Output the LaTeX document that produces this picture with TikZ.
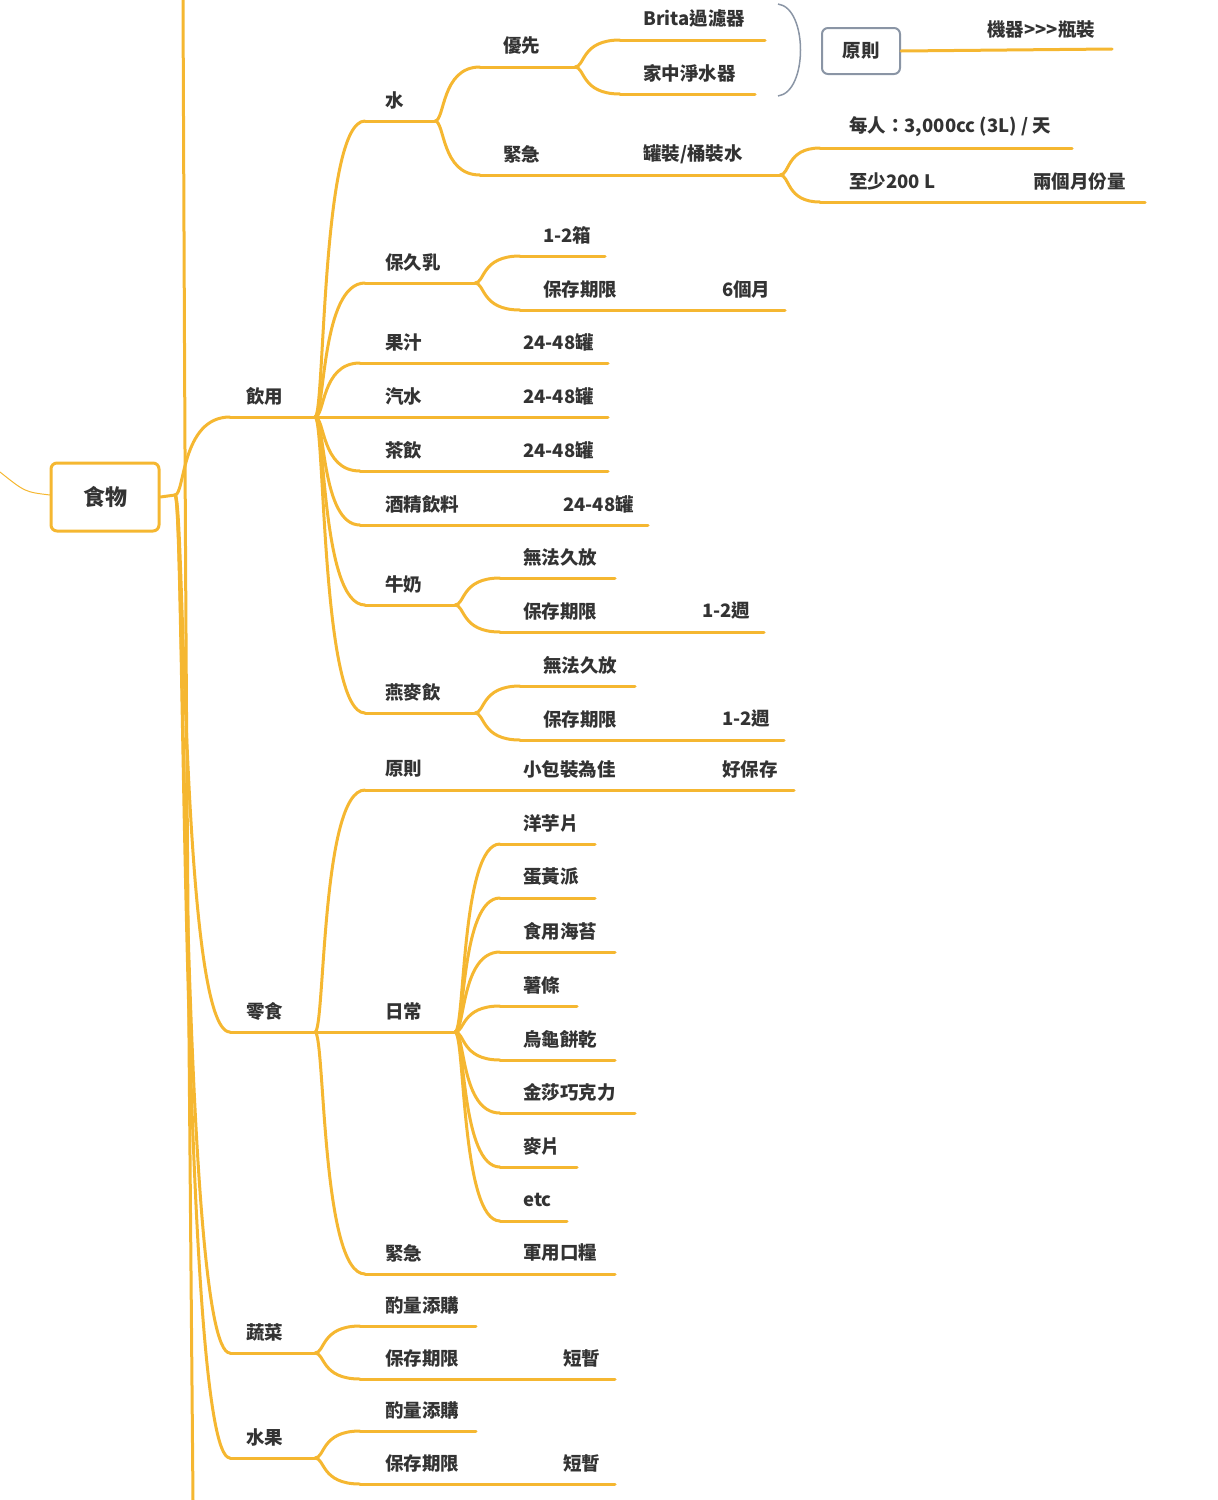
\documentclass[tikz,border=0pt]{standalone}
\usepackage{fontspec}
\setmainfont{Noto Sans CJK TC}
\usetikzlibrary{calc}
\definecolor{branch}{HTML}{F5B731}
\definecolor{ink}{HTML}{333333}
\definecolor{frame}{HTML}{8A95A5}
\tikzset{
  lbl/.style={anchor=west, inner sep=0pt, text=ink, font=\fontsize{18.5}{21}\selectfont\bfseries},
  br/.style={draw=branch, line width=3pt, line cap=round},
}
% one item: name, line start x, line end x, line y, text x, text
\newcommand\mm[6]{%
  \coordinate (#1-s) at (#2,#4);
  \coordinate (#1-e) at (#3,#4);
  \draw[br] (#1-s) -- (#1-e);
  \node[lbl] (#1) at (#5,#4-21) {#6};}
% connector from the end of a parent line to the start of a child line
\newcommand\cn[2]{%
  \draw[br] (#1-e) .. controls ($(#1-e)+(10,0)$) and ($(#1-e|-#2-s)+(6,0)$) .. (#2-s);}
\begin{document}
\begin{tikzpicture}[x=1pt,y=-1pt]
\useasboundingbox (0,0) rectangle (1218,1500);

% root side
\draw[br] (183,0) .. controls (186,700) .. (193,1500);
\draw[branch, line width=1pt] (0,472) .. controls (25,492) .. (50,495);
\node[draw=branch, line width=3pt, rounded corners=6pt, minimum width=108pt,
  minimum height=68pt, text=ink, font=\fontsize{22}{25}\selectfont\bfseries]
  (food) at (105,497) {食物};
\coordinate (food-e) at (175,495);
\draw[br] (food.east) -- (food-e);

% drinks
\mm{drink}{230}{315}{417}{246}{飲用}
\cn{food}{drink}
\mm{water}{365}{435}{121}{385}{水}
\cn{drink}{water}
\mm{pref}{480}{575}{67}{503}{優先}
\cn{water}{pref}
\mm{brita}{620}{765}{40}{643}{Brita過濾器}
\cn{pref}{brita}
\mm{home}{620}{755}{94}{643}{家中淨水器}
\cn{pref}{home}
\mm{urg}{480}{640}{175}{503}{緊急}
\cn{water}{urg}
\mm{can}{640}{780}{175}{643}{罐裝/桶裝水}
\mm{per}{820}{1072}{148}{849}{每人：3,000cc (3L) / 天}
\cn{can}{per}
\mm{least}{820}{1010}{202}{849}{至少200 L}
\cn{can}{least}
\mm{twom}{1010}{1145}{202}{1033}{兩個月份量}
\draw[frame, line width=1.5pt] (778,4) .. controls (808,8) and (808,92) .. (778,96);
\node[draw=frame, line width=2pt, rounded corners=6pt, minimum width=78pt,
  minimum height=46pt, text=ink, font=\fontsize{18.5}{21}\selectfont\bfseries]
  (rule) at (861,51) {原則};
\coordinate (rule-e) at (1112,49);
\draw[br] (rule.east) -- (rule-e);
\node[lbl] (machine) at (987,30) {機器{>}{>}{>}瓶裝};

\mm{uht}{365}{475}{283}{385}{保久乳}
\cn{drink}{uht}
\mm{uhtbox}{520}{605}{256}{543}{1-2箱}
\cn{uht}{uhtbox}
\mm{uhtkeep}{520}{700}{310}{543}{保存期限}
\cn{uht}{uhtkeep}
\mm{uhtmon}{700}{785}{310}{722}{6個月}
\mm{juice}{360}{500}{363}{385}{果汁}
\cn{drink}{juice}
\mm{juicen}{500}{608}{363}{523}{24-48罐}
\mm{soda}{360}{500}{417}{385}{汽水}
\cn{drink}{soda}
\mm{sodan}{500}{608}{417}{523}{24-48罐}
\mm{tea}{360}{500}{471}{385}{茶飲}
\cn{drink}{tea}
\mm{tean}{500}{608}{471}{523}{24-48罐}
\mm{alc}{360}{540}{525}{385}{酒精飲料}
\cn{drink}{alc}
\mm{alcn}{540}{648}{525}{563}{24-48罐}
\mm{milk}{365}{455}{605}{385}{牛奶}
\cn{drink}{milk}
\mm{milkno}{500}{615}{578}{523}{無法久放}
\cn{milk}{milkno}
\mm{milkkeep}{500}{680}{632}{523}{保存期限}
\cn{milk}{milkkeep}
\mm{milkwk}{680}{764}{632}{702}{1-2週}
\mm{oat}{365}{475}{713}{385}{燕麥飲}
\cn{drink}{oat}
\mm{oatno}{520}{635}{686}{543}{無法久放}
\cn{oat}{oatno}
\mm{oatkeep}{520}{700}{740}{543}{保存期限}
\cn{oat}{oatkeep}
\mm{oatwk}{700}{784}{740}{722}{1-2週}

% snacks
\mm{snack}{230}{315}{1032}{246}{零食}
\cn{food}{snack}
\mm{srule}{365}{500}{790}{385}{原則}
\cn{snack}{srule}
\mm{small}{500}{700}{790}{523}{小包裝為佳}
\mm{keepw}{700}{794}{790}{722}{好保存}
\mm{daily}{365}{455}{1032}{385}{日常}
\cn{snack}{daily}
\mm{d1}{500}{595}{844}{523}{洋芋片}
\mm{d2}{500}{595}{898}{523}{蛋黃派}
\mm{d3}{500}{615}{952}{523}{食用海苔}
\mm{d4}{500}{577}{1006}{523}{薯條}
\mm{d5}{500}{615}{1060}{523}{烏龜餅乾}
\mm{d6}{500}{635}{1113}{523}{金莎巧克力}
\mm{d7}{500}{577}{1167}{523}{麥片}
\mm{d8}{500}{567}{1221}{523}{etc}
\foreach \d in {d1,d2,d3,d4,d5,d6,d7,d8} {\cn{daily}{\d}}
\mm{surg}{365}{500}{1274}{385}{緊急}
\cn{snack}{surg}
\mm{ration}{500}{615}{1274}{523}{軍用口糧}

% vegetables and fruit
\mm{veg}{230}{315}{1353}{246}{蔬菜}
\cn{food}{veg}
\mm{vegbuy}{360}{476}{1326}{385}{酌量添購}
\cn{veg}{vegbuy}
\mm{vegkeep}{360}{540}{1379}{385}{保存期限}
\cn{veg}{vegkeep}
\mm{vegshort}{540}{615}{1379}{563}{短暫}
\mm{fruit}{230}{315}{1458}{246}{水果}
\cn{food}{fruit}
\mm{frbuy}{360}{476}{1431}{385}{酌量添購}
\cn{fruit}{frbuy}
\mm{frkeep}{360}{540}{1484}{385}{保存期限}
\cn{fruit}{frkeep}
\mm{frshort}{540}{615}{1484}{563}{短暫}
\end{tikzpicture}
\end{document}
